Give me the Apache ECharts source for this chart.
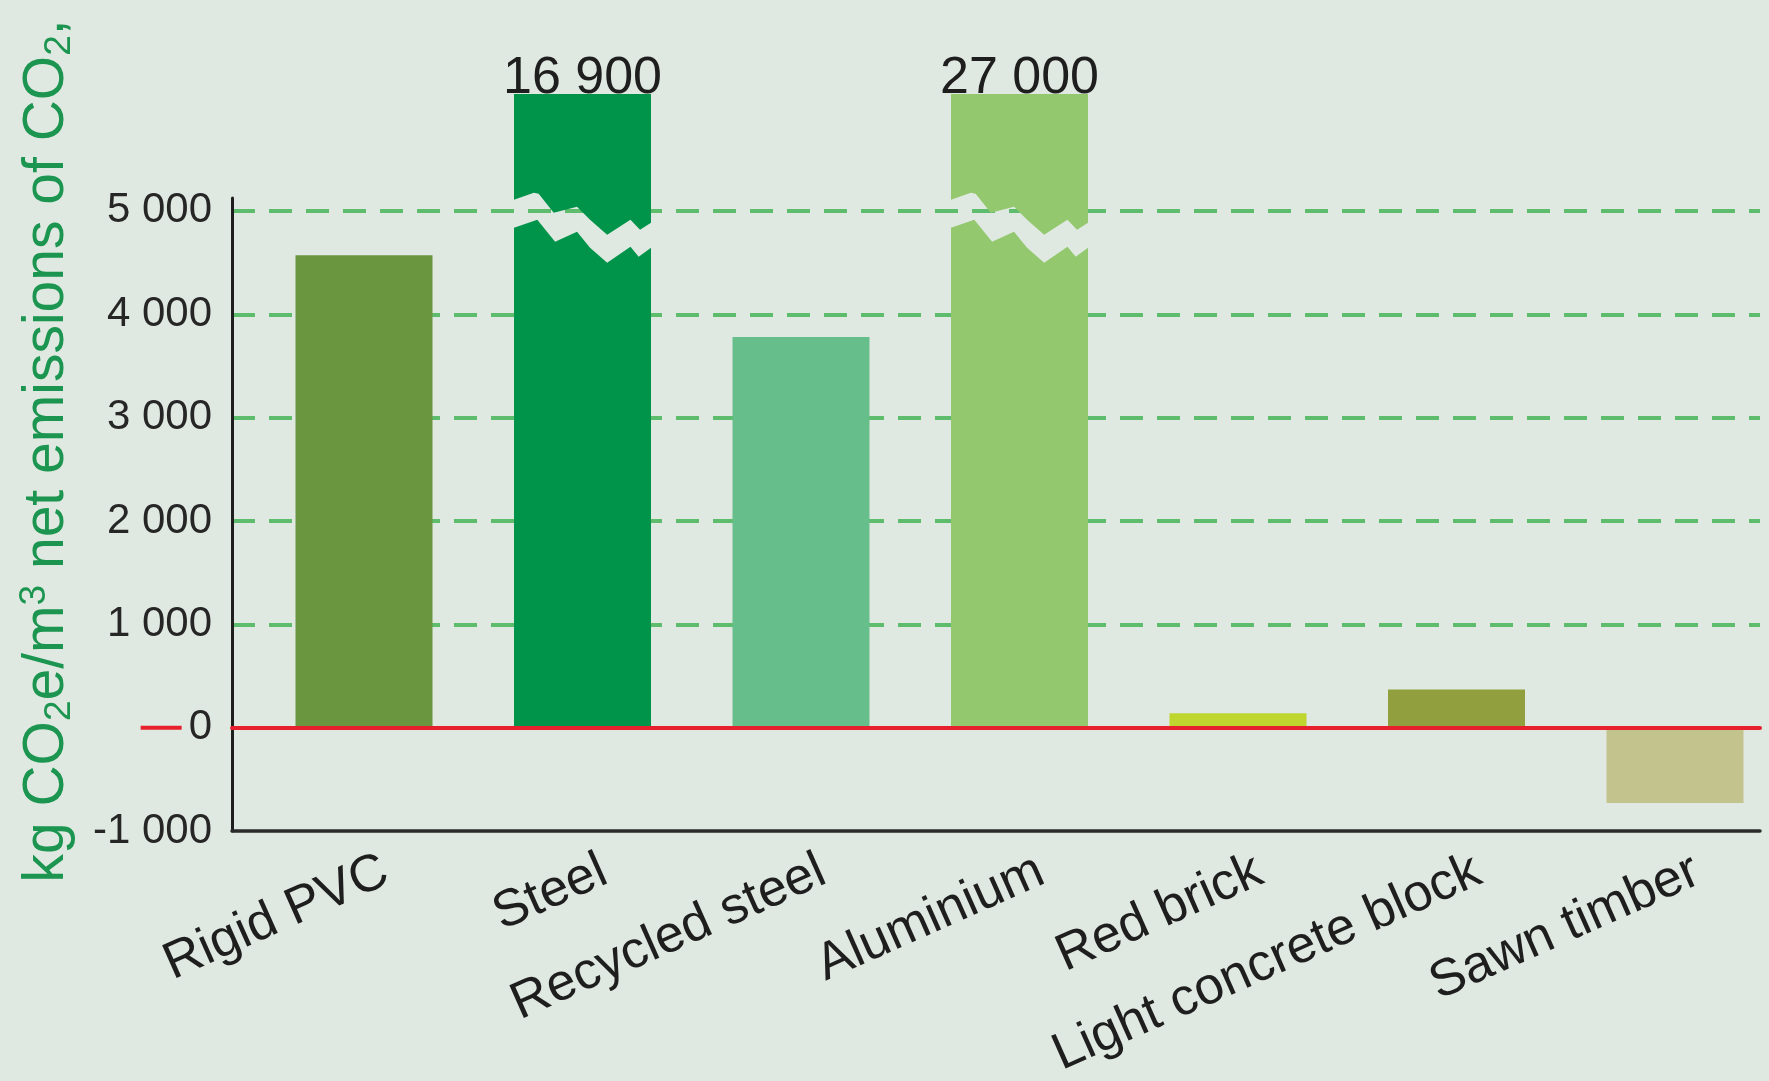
<!DOCTYPE html>
<html>
<head>
<meta charset="utf-8">
<title>Net CO2 emissions of building materials</title>
<style>
  html, body { margin: 0; padding: 0; background: #e0e9e1; }
  #chart { width: 1769px; height: 1081px; }
</style>
<script src="https://cdn.jsdelivr.net/npm/echarts@6/dist/echarts.min.js"></script>
</head>
<body>
<div id="chart"></div>
<script>
// Net emissions of CO2 per cubic metre of material (kg CO2e/m3)
const categories = ['Rigid PVC', 'Steel', 'Recycled steel', 'Aluminium', 'Red brick', 'Light concrete block', 'Sawn timber'];
const emissions = [4570, 16900, 3780, 27000, 140, 370, -730];
const barColors = ['#6a9640', '#00934a', '#66bf8b', '#93c86e', '#bfd62f', '#929f3e', '#c3c48d'];
const yTickValues = [-1000, 0, 1000, 2000, 3000, 4000, 5000];

// ---- layout and styling ----
const FONT = "'Liberation Sans', Arial, Helvetica, sans-serif";
const BG = '#e0e9e1';
const PANEL_TOP = 6130;      // value reached at the top of the bar panel
const AXIS_TOP = 5125;       // value at the top of the drawn y axis line
const BREAK_AT = 5000;       // tall bars are cut around this level
const BAR_WIDTH = 137;
const LABEL_SHIFT = 22;      // category names sit a little right of the bar centres

// jagged edges of the cut, [fraction of bar width, pixel offset from BREAK_AT]
const UPPER_EDGE = [[0, -11], [0.145, -18], [0.18, -17], [0.29, 2], [0.46, -4], [0.555, 9], [0.68, 24], [0.85, 9], [0.92, 19], [1, 12]];
const LOWER_EDGE = [[0, 17], [0.17, 9], [0.3, 31], [0.46, 21], [0.555, 37], [0.68, 52], [0.85, 36], [0.91, 46], [1, 37]];

const fmt = v => String(v).replace(/\B(?=(\d{3})+(?!\d))/g, ' ');

const yMin = yTickValues[0];
const yStep = yTickValues[1] - yTickValues[0];

const barData = emissions.map((v, i) => v > PANEL_TOP ? '-' : { value: v, itemStyle: { color: barColors[i] } });
const brokenData = emissions.map((v, i) => v > PANEL_TOP ? [i, v] : null).filter(Boolean);

function renderBrokenBar(params, api) {
  const idx = api.value(0);
  const val = api.value(1);
  const base = api.coord([idx, 0]);
  const top = api.coord([idx, Math.min(val, PANEL_TOP)]);
  const cut = api.coord([idx, BREAK_AT]);
  const w = BAR_WIDTH;
  const left = base[0] - w / 2;
  const upper = UPPER_EDGE.map(([f, d]) => [left + f * w, cut[1] + d]);
  const lower = LOWER_EDGE.map(([f, d]) => [left + f * w, cut[1] + d]);
  const color = barColors[idx];
  return {
    type: 'group',
    children: [
      { type: 'polygon', shape: { points: [[left, top[1]], [left + w, top[1]]].concat(upper.slice().reverse()) }, style: { fill: color } },
      { type: 'polygon', shape: { points: lower.concat([[left + w, base[1]], [left, base[1]]]) }, style: { fill: color } },
      { type: 'text', x: base[0], y: top[1] - 15, style: { text: fmt(val), fill: '#1e1e1e', fontFamily: FONT, fontSize: 52, align: 'center', verticalAlign: 'middle' } }
    ]
  };
}

const chart = echarts.init(document.getElementById('chart'), null, { renderer: 'canvas' });

chart.setOption({
  backgroundColor: BG,
  animation: false,
  textStyle: { fontFamily: FONT },
  grid: [
    { left: 232, right: 9, top: 198, bottom: 250, containLabel: false, outerBoundsMode: 'none' },
    { left: 254.75, right: -15.25, top: 94, bottom: 250, containLabel: false, outerBoundsMode: 'none' },
    { left: 254.75 + LABEL_SHIFT, right: -15.25 - LABEL_SHIFT, top: 94, bottom: 250, containLabel: false, outerBoundsMode: 'none' }
  ],
  xAxis: [
    { // bottom frame line
      gridIndex: 0, type: 'value', min: 0, max: 1, position: 'bottom', z: 4,
      axisLine: { show: true, onZero: false, lineStyle: { color: '#2b2b2b', width: 3.5 } },
      axisTick: { show: false }, axisLabel: { show: false }, splitLine: { show: false }
    },
    { // zero line
      gridIndex: 0, type: 'value', min: 0, max: 1, position: 'top', z: 5,
      axisLine: { show: true, onZero: true, lineStyle: { color: '#e8202e', width: 4 } },
      axisTick: { show: false }, axisLabel: { show: false }, splitLine: { show: false }
    },
    { // bar positions
      gridIndex: 1, type: 'category', data: categories,
      axisLine: { show: false }, axisTick: { show: false }, axisLabel: { show: false }, splitLine: { show: false }
    },
    { // category names
      gridIndex: 2, type: 'category', data: categories,
      axisLine: { show: false }, axisTick: { show: false }, splitLine: { show: false },
      axisLabel: { show: true, interval: 0, rotate: 24, margin: 38, color: '#1e1e1e', fontFamily: FONT, fontSize: 52 }
    }
  ],
  yAxis: [
    {
      gridIndex: 0, type: 'value', min: yMin, max: AXIS_TOP, interval: yStep, z: 0,
      axisLine: { show: true, onZero: false, lineStyle: { color: '#1e1e1e', width: 3 } },
      axisTick: { show: false },
      axisLabel: {
        show: true, margin: 20, color: '#262626', fontFamily: FONT, fontSize: 42,
        showMaxLabel: false,
        formatter: v => v === 0 ? '{stub|}{zero|0}' : fmt(v),
        rich: {
          stub: { width: 41, height: 4, backgroundColor: '#e8202e' },
          zero: { color: '#262626', fontFamily: FONT, fontSize: 42, padding: [0, 0, 0, 7] }
        }
      },
      splitLine: { show: true, showMinLine: false, showMaxLine: false, lineStyle: { color: '#5dbd6c', width: 4, type: [23, 14] } }
    },
    { gridIndex: 1, type: 'value', min: yMin, max: PANEL_TOP, show: false, splitLine: { show: false } },
    { gridIndex: 2, type: 'value', min: yMin, max: PANEL_TOP, show: false, splitLine: { show: false } }
  ],
  series: [
    {
      type: 'bar', xAxisIndex: 2, yAxisIndex: 1, data: barData,
      barWidth: BAR_WIDTH, z: 2
    },
    {
      type: 'custom', xAxisIndex: 2, yAxisIndex: 1, data: brokenData,
      encode: { x: 0, y: 1 }, clip: false, z: 2,
      renderItem: renderBrokenBar
    }
  ],
  graphic: [
    {
      type: 'text', x: 47, y: 451, rotation: Math.PI / 2,
      style: {
        text: '{t|kg CO}{sub|2}{t|e/m}{sup|3}{t| net emissions of CO}{sub|2}{t|,}',
        align: 'center', verticalAlign: 'middle',
        rich: {
          t: { fontFamily: FONT, fontSize: 57, lineHeight: 62, fill: '#1b9550', color: '#1b9550' },
          sub: { fontFamily: FONT, fontSize: 37, lineHeight: 38, verticalAlign: 'bottom', fill: '#1b9550', color: '#1b9550' },
          sup: { fontFamily: FONT, fontSize: 37, lineHeight: 38, verticalAlign: 'top', fill: '#1b9550', color: '#1b9550' }
        }
      }
    }
  ]
});
</script>
</body>
</html>
